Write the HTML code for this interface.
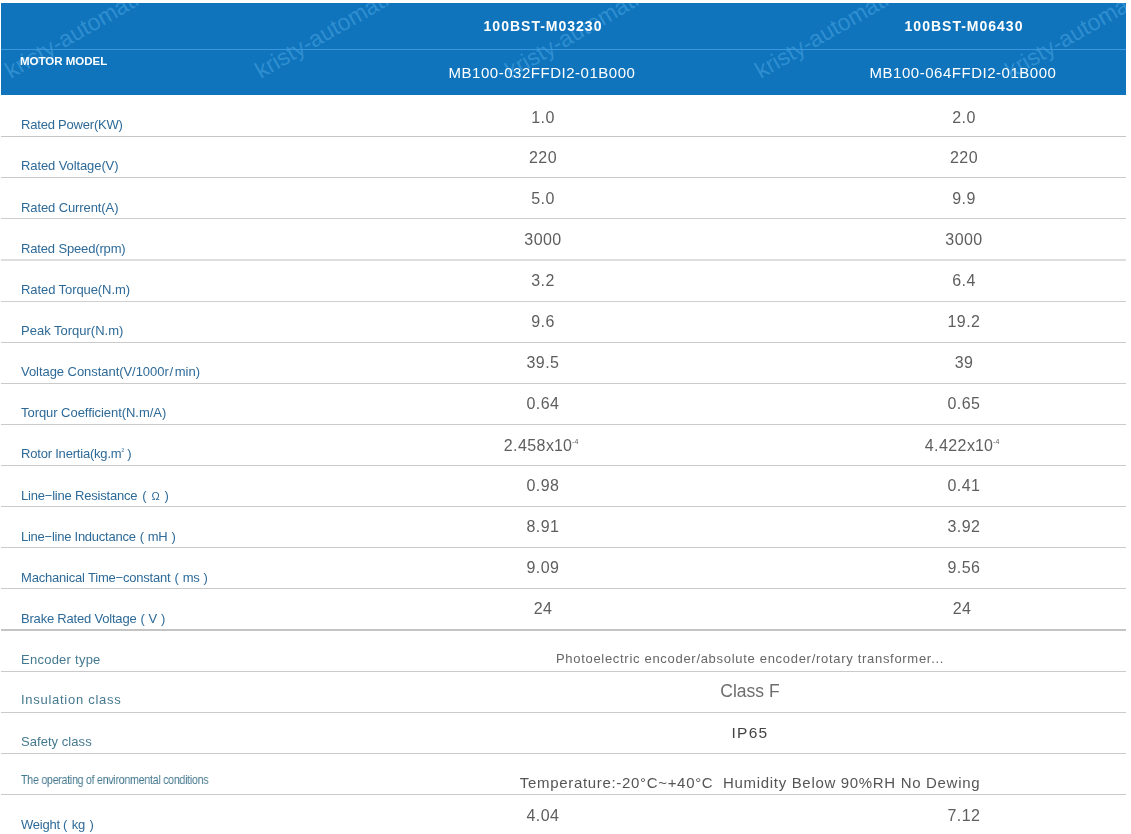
<!DOCTYPE html>
<html><head><meta charset="utf-8"><style>
*{margin:0;padding:0;box-sizing:border-box}
html,body{width:1131px;height:834px;overflow:hidden;background:#fff}
body{position:relative;font-family:"Liberation Sans",sans-serif}
.a{position:absolute;white-space:nowrap;will-change:transform}
.c{position:absolute;white-space:nowrap;width:400px;text-align:center;will-change:transform}
.hl{position:absolute;left:1px;width:1125px}
.lab{font-size:13px;line-height:13px;color:#2e6a98}
.val{font-size:16px;line-height:16px;color:#5e5e5e;letter-spacing:0.45px}
.val sup{font-size:7px;vertical-align:0;position:relative;top:-7px;letter-spacing:0}
.s2{font-size:8px;position:relative;top:-4px}
.fp{display:inline-block;margin:0 4px}
#hdr{position:absolute;left:1px;top:3px;width:1125px;height:92px;background:#0f74bc;overflow:hidden}
.wm{position:absolute;font-size:23px;line-height:23px;color:rgba(120,200,255,0.33);transform-origin:0 19.47px;transform:rotate(-30deg);white-space:nowrap}
</style></head><body>

<div id="hdr">
<div class="wm" style="left:9.60px;top:56.78px">kristy-automation</div>
<div class="wm" style="left:259.60px;top:56.78px">kristy-automation</div>
<div class="wm" style="left:509.60px;top:56.78px">kristy-automation</div>
<div class="wm" style="left:759.60px;top:56.78px">kristy-automation</div>
<div class="wm" style="left:1009.60px;top:56.78px">kristy-automation</div>
<div style="position:absolute;left:0;top:46px;width:1125px;height:1px;background:#3d97dd"></div>
</div>
<div class="a" style="left:19.8px;top:55.9px;font-size:11.5px;line-height:11.5px;font-weight:bold;color:#fff">MOTOR MODEL</div>
<div class="c" style="left:343.0px;top:18.9px;font-size:14px;line-height:14px;font-weight:bold;color:#fff;letter-spacing:1px">100BST-M03230</div>
<div class="c" style="left:341.9px;top:64.5px;font-size:15px;line-height:15px;color:#fff;letter-spacing:0.52px">MB100-032FFDI2-01B000</div>
<div class="c" style="left:764.0px;top:18.9px;font-size:14px;line-height:14px;font-weight:bold;color:#fff;letter-spacing:1px">100BST-M06430</div>
<div class="c" style="left:762.9px;top:64.5px;font-size:15px;line-height:15px;color:#fff;letter-spacing:0.52px">MB100-064FFDI2-01B000</div>
<div class="hl" style="top:136px;height:1px;background:#c6c6c6"></div>
<div class="hl" style="top:177px;height:1px;background:#c8c8c8"></div>
<div class="hl" style="top:218px;height:1px;background:#cdcdcd"></div>
<div class="hl" style="top:259px;height:2px;background:#dedede"></div>
<div class="hl" style="top:301px;height:1px;background:#cfcfcf"></div>
<div class="hl" style="top:342px;height:1px;background:#cacaca"></div>
<div class="hl" style="top:383px;height:1px;background:#cacaca"></div>
<div class="hl" style="top:424px;height:1px;background:#cacaca"></div>
<div class="hl" style="top:465px;height:1px;background:#cacaca"></div>
<div class="hl" style="top:506px;height:1px;background:#cacaca"></div>
<div class="hl" style="top:547px;height:1px;background:#cacaca"></div>
<div class="hl" style="top:588px;height:1px;background:#cacaca"></div>
<div class="hl" style="top:629px;height:2px;background:#c4c4c4"></div>
<div class="hl" style="top:671px;height:1px;background:#cacaca"></div>
<div class="hl" style="top:712px;height:1px;background:#cacaca"></div>
<div class="hl" style="top:753px;height:1px;background:#cacaca"></div>
<div class="hl" style="top:794px;height:1px;background:#cacaca"></div>
<div class="a lab" style="left:20.6px;top:118.1px;letter-spacing:-0.20px">Rated Power(KW)</div>
<div class="c val" style="left:343.0px;top:110.1px">1.0</div>
<div class="c val" style="left:764.0px;top:110.1px">2.0</div>
<div class="a lab" style="left:20.6px;top:159.3px;letter-spacing:-0.10px">Rated Voltage(V)</div>
<div class="c val" style="left:343.0px;top:150.2px">220</div>
<div class="c val" style="left:764.0px;top:150.2px">220</div>
<div class="a lab" style="left:20.6px;top:200.5px;letter-spacing:-0.10px">Rated Current(A)</div>
<div class="c val" style="left:343.0px;top:191.1px">5.0</div>
<div class="c val" style="left:764.0px;top:191.1px">9.9</div>
<div class="a lab" style="left:20.6px;top:241.7px;letter-spacing:-0.15px">Rated Speed(rpm)</div>
<div class="c val" style="left:343.0px;top:232.0px">3000</div>
<div class="c val" style="left:764.0px;top:232.0px">3000</div>
<div class="a lab" style="left:20.6px;top:283.0px;letter-spacing:-0.08px">Rated Torque(N.m)</div>
<div class="c val" style="left:343.0px;top:273.0px">3.2</div>
<div class="c val" style="left:764.0px;top:273.0px">6.4</div>
<div class="a lab" style="left:20.6px;top:324.1px;letter-spacing:0.00px">Peak Torqur(N.m)</div>
<div class="c val" style="left:343.0px;top:313.9px">9.6</div>
<div class="c val" style="left:764.0px;top:313.9px">19.2</div>
<div class="a lab" style="left:20.6px;top:365.2px;letter-spacing:-0.05px">Voltage Constant(V/1000r<span style="margin:0 1.8px 0 0.8px">/</span>min)</div>
<div class="c val" style="left:343.0px;top:354.8px">39.5</div>
<div class="c val" style="left:764.0px;top:354.8px">39</div>
<div class="a lab" style="left:20.6px;top:406.3px;letter-spacing:-0.05px">Torqur Coefficient(N.m/A)</div>
<div class="c val" style="left:343.0px;top:395.8px">0.64</div>
<div class="c val" style="left:764.0px;top:395.8px">0.65</div>
<div class="a lab" style="left:20.6px;top:447.3px;letter-spacing:-0.20px">Rotor Inertia(kg.m<span class="s2">²</span> )</div>
<div class="c val" style="left:341.2px;top:437.7px">2.458<span style="letter-spacing:0.1px">x10</span><sup>-4</sup></div>
<div class="c val" style="left:762.2px;top:437.7px">4.422<span style="letter-spacing:0.1px">x10</span><sup>-4</sup></div>
<div class="a lab" style="left:20.6px;top:489.1px;letter-spacing:-0.20px">Line−line Resistance<span class="fp" style="margin:0 5px">(</span><span style="font-size:11px">Ω</span><span class="fp" style="margin:0 5px">)</span></div>
<div class="c val" style="left:343.0px;top:477.6px">0.98</div>
<div class="c val" style="left:764.0px;top:477.6px">0.41</div>
<div class="a lab" style="left:20.6px;top:530.2px;letter-spacing:-0.25px">Line−line Inductance<span class="fp">(</span>mH<span class="fp">)</span></div>
<div class="c val" style="left:343.0px;top:518.6px">8.91</div>
<div class="c val" style="left:764.0px;top:518.6px">3.92</div>
<div class="a lab" style="left:20.6px;top:571.4px;letter-spacing:-0.20px">Machanical Time−constant<span class="fp">(</span>ms<span class="fp">)</span></div>
<div class="c val" style="left:343.0px;top:559.5px">9.09</div>
<div class="c val" style="left:764.0px;top:559.5px">9.56</div>
<div class="a lab" style="left:20.6px;top:612.4px;letter-spacing:-0.20px">Brake Rated Voltage<span class="fp">(</span>V<span class="fp">)</span></div>
<div class="c val" style="left:343.0px;top:601.0px">24</div>
<div class="c val" style="left:762.0px;top:601.0px">24</div>
<div class="a" style="left:20.5px;top:653.4px;font-size:13px;line-height:13px;color:#45798f;letter-spacing:0.25px">Encoder type</div>
<div class="a" style="left:20.5px;top:693.2px;font-size:13px;line-height:13px;color:#45798f;letter-spacing:0.72px">Insulation class</div>
<div class="a" style="left:20.5px;top:734.6px;font-size:13px;line-height:13px;color:#45798f;letter-spacing:0.05px">Safety class</div>
<div class="a" style="left:21.2px;top:773.2px;font-size:13.5px;line-height:13.5px;color:#45798f;letter-spacing:-0.4px;transform:scaleX(0.797);transform-origin:0 0">The operating of environmental conditions</div>
<div class="a lab" style="left:20.8px;top:818.2px;letter-spacing:-0.2px">Weight<span class="fp" style="margin:0 4.5px 0 3px">(</span>kg<span class="fp" style="margin:0 3px 0 4.5px">)</span></div>
<div class="c" style="left:549.5px;top:651.7px;font-size:13px;line-height:13px;color:#666;letter-spacing:0.7px">Photoelectric encoder/absolute encoder/rotary transformer...</div>
<div class="c" style="left:549.5px;top:682.5px;font-size:17.5px;line-height:17.5px;color:#6e6e6e;letter-spacing:0px">Class F</div>
<div class="c" style="left:549.5px;top:725.0px;font-size:15.5px;line-height:15.5px;color:#444;letter-spacing:1.3px">IP65</div>
<div class="c" style="left:450px;width:600px;top:775.2px;font-size:15px;line-height:15px;color:#555;letter-spacing:0.68px">Temperature:-20°C~+40°C&nbsp; Humidity Below 90%RH No Dewing</div>
<div class="c val" style="left:343px;top:808.3px">4.04</div>
<div class="c val" style="left:764px;top:808.3px">7.12</div>
</body></html>
